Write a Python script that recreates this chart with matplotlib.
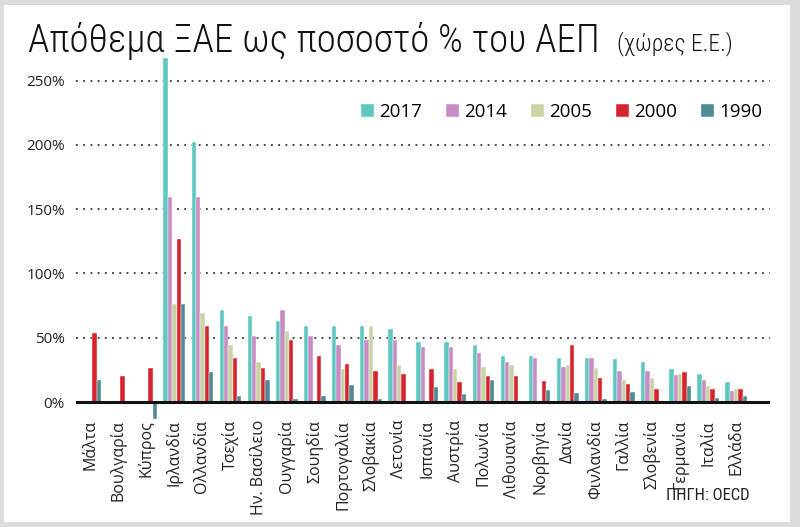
import numpy as np
import matplotlib
matplotlib.use("Agg")
import matplotlib.pyplot as plt
from matplotlib.patches import Rectangle

nan = np.nan

countries = [
    "Μάλτα", "Βουλγαρία", "Κύπρος", "Ιρλανδία", "Ολλανδία", "Τσεχία",
    "Ην. Βασίλειο", "Ουγγαρία", "Σουηδία", "Πορτογαλία", "Σλοβακία",
    "Λετονία", "Ισπανία", "Αυστρία", "Πολωνία", "Λιθουανία", "Νορβηγία",
    "Δανία", "Φινλανδία", "Γαλλία", "Σλοβενία", "Γερμανία", "Ιταλία", "Ελλάδα",
]

years = ["2017", "2014", "2005", "2000", "1990"]

v2017 = [nan, nan, nan, 267.5, 202, 71.5, 67, 63, 59.5, 59.5, 59.5, 57,
         46.5, 46.5, 44, 36, 36, 34.5, 34.5, 33.5, 31.5, 25.5, 22, 15.5]
v2014 = [nan, nan, nan, 159.5, 159.5, 59.5, 51.5, 71.5, 51.5, 44, 48.5, 48.5,
         42.5, 42.5, 38, 31.5, 34.5, 27.5, 34.5, 24, 24, 21, 17, 8.5]
v2005 = [nan, nan, nan, 76, 69, 44, 31, 55, nan, 25.5, 59.5, 28.5,
         nan, 25.5, 27.5, 28.5, nan, 28.5, 26.5, 17, 19, 22, 12.5, 10.5]
v2000 = [53.5, 20, 26.5, 126.5, 59.5, 34.5, 26.5, 48.5, 35.5, 29.5, 24, 22,
         25.5, 15.5, 20, 20, 16, 44, 19, 14, 10.5, 23, 10, 10]
v1990 = [17.5, nan, -13, 76, 23, 4.5, 17.5, 2, 4.5, 13, 2, nan,
         11.5, 6.5, 17.5, nan, 9, 7, 2, 8, nan, 12.5, 3.5, 5]

series = [v2017, v2014, v2005, v2000, v1990]
colors = ["#5cc8c0", "#c98bc3", "#c9d4a6", "#d7232d", "#4f8b94"]

narrow = ["Liberation Sans Narrow", "Roboto Condensed", "DejaVu Sans"]
body = ["Open Sans", "DejaVu Sans"]

fig = plt.figure(figsize=(8, 5.27), dpi=100)
fig.patch.set_facecolor("#dcdcdc")
fig.patches.append(Rectangle((4 / 800, 5 / 527), 786 / 800, 517 / 527,
                             transform=fig.transFigure, facecolor="white",
                             edgecolor="none", zorder=-5))

ax = fig.add_axes([76 / 800, 1 - 420 / 527, 694 / 800, 365 / 527])
ax.set_facecolor("none")
ax.set_zorder(2)

x = np.arange(len(countries))
w = 0.155
for i, (vals, c, yr) in enumerate(zip(series, colors, years)):
    ax.bar(x + (i - 2) * w, vals, width=w, color=c, label=yr,
           edgecolor="white", linewidth=0.3, zorder=3)

ax.set_xlim(-0.5, 24.2)
ax.set_ylim(-14, 270)
ax.set_yticks([0, 50, 100, 150, 200, 250])
ax.set_yticklabels(["0%", "50%", "100%", "150%", "200%", "250%"],
                   family=body, fontsize=11, color="#222222")
for v in [50, 100, 150, 200, 250]:
    ax.axhline(v, color="#333333", lw=1.3, ls=(0, (1, 3)), zorder=1)
ax.axhline(0, color="#111111", lw=2.2, zorder=4)

ax.set_xticks(x)
ax.set_xticklabels(countries, rotation=90, family=body, fontsize=11.5,
                   va="top", ha="center", color="#222222")
ax.tick_params(length=0, pad=8)
ax.tick_params(axis="x", pad=0)
for s in ax.spines.values():
    s.set_visible(False)

leg = ax.legend(loc="upper right", bbox_to_anchor=(1.0, 0.89), ncol=5,
                frameon=False, prop={"family": body, "size": 13.5},
                handlelength=0.7, handleheight=0.7, handletextpad=0.3,
                columnspacing=1.25, borderaxespad=0)

fig.text(28 / 800, 1 - 52 / 527, "Απόθεμα ΞΑΕ ως ποσοστό % του ΑΕΠ",
         family=narrow, fontsize=28, fontweight="light", color="#111111",
         va="baseline")
fig.text(617 / 800, 1 - 50 / 527, "(χώρες Ε.Ε.)", family=narrow,
         fontsize=17, fontweight="light", color="#111111", va="baseline")
fig.text(750 / 800, 1 - 500 / 527, "ΠΗΓΗ: OECD", family=narrow,
         fontsize=12, color="#222222", ha="right", va="baseline")

fig.savefig("out.png", dpi=100, facecolor=fig.get_facecolor())
